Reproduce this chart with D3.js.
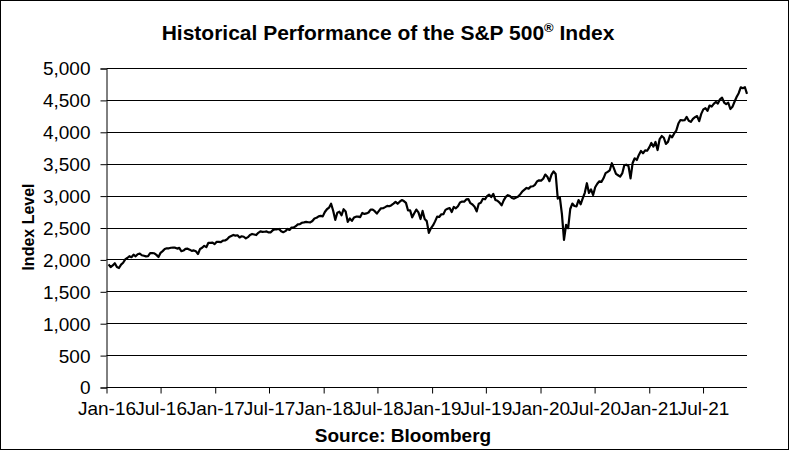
<!DOCTYPE html>
<html>
<head>
<meta charset="utf-8">
<script src="https://cdn.jsdelivr.net/npm/d3@7"></script>
<style>
    body { margin: 0; background: #fff; }
    text { font-family: "Liberation Sans", Arial, sans-serif; fill: #000; }
</style>
</head>
<body>
<svg id="chart" width="789" height="450"></svg>
<script>
// weekly closes of the S&P 500, first week ending 2016-01-08
var firstWeek = "2016-01-08";

var closes2016 = [1922, 1880, 1906, 1940, 1880, 1865, 1918, 1948, 2000, 2022, 2050, 2035, 2073,
    2048, 2081, 2092, 2065, 2057, 2047, 2052, 2099, 2099, 2096, 2071, 2037, 2103, 2130, 2162,
    2175, 2174, 2183, 2184, 2184, 2169, 2180, 2128, 2139, 2165, 2168, 2153, 2133, 2141, 2126,
    2085, 2164, 2182, 2213, 2192, 2260, 2258, 2264, 2239];
var closes2017 = [2277, 2275, 2271, 2295, 2297, 2316, 2351, 2367, 2383, 2372, 2378, 2344, 2363,
    2355, 2329, 2349, 2384, 2399, 2391, 2382, 2416, 2439, 2432, 2433, 2438, 2423, 2425, 2459,
    2473, 2472, 2477, 2441, 2426, 2443, 2477, 2461, 2500, 2502, 2519, 2549, 2553, 2575, 2581,
    2588, 2582, 2579, 2602, 2642, 2652, 2675, 2683, 2674];
var closes2018 = [2743, 2786, 2810, 2873, 2762, 2620, 2732, 2747, 2691, 2786, 2752, 2588, 2641,
    2604, 2656, 2670, 2670, 2663, 2728, 2713, 2721, 2735, 2779, 2780, 2755, 2718, 2760, 2801,
    2802, 2819, 2840, 2833, 2850, 2875, 2902, 2872, 2905, 2930, 2914, 2886, 2767, 2768, 2659,
    2723, 2781, 2736, 2633, 2760, 2633, 2600, 2417, 2486];
var closes2019 = [2532, 2596, 2671, 2665, 2707, 2708, 2776, 2793, 2804, 2743, 2822, 2800, 2834,
    2893, 2907, 2905, 2940, 2946, 2881, 2860, 2826, 2752, 2873, 2887, 2950, 2942, 2990, 3014,
    2977, 3026, 2932, 2919, 2889, 2847, 2926, 2979, 3007, 2992, 2962, 2952, 2970, 2986, 3023,
    3067, 3093, 3120, 3110, 3141, 3146, 3169, 3221, 3240];
var closes2020 = [3235, 3265, 3330, 3295, 3226, 3328, 3380, 3338, 2954, 2972, 2711, 2305, 2541,
    2489, 2790, 2875, 2837, 2831, 2930, 2864, 2955, 3044, 3194, 3041, 3098, 3009, 3130, 3185,
    3225, 3216, 3271, 3351, 3373, 3397, 3508, 3427, 3341, 3319, 3298, 3348, 3477, 3484, 3465,
    3270, 3510, 3585, 3558, 3638, 3699, 3663, 3709, 3703, 3756];
var closes2021 = [3825, 3768, 3841, 3714, 3887, 3934, 3907, 3811, 3842, 3943, 3913, 3975, 4020,
    4129, 4185, 4180, 4181, 4233, 4174, 4156, 4204, 4230, 4247, 4166, 4281, 4352, 4370, 4327,
    4412, 4395, 4437, 4468, 4442, 4509, 4535, 4459, 4433, 4455, 4357, 4391, 4471, 4545, 4605,
    4698, 4683, 4698, 4595];

var xTickLabels = ["Jan-16", "Jul-16", "Jan-17", "Jul-17", "Jan-18", "Jul-18", "Jan-19",
    "Jul-19", "Jan-20", "Jul-20", "Jan-21", "Jul-21"];
var yTicks = [0, 500, 1000, 1500, 2000, 2500, 3000, 3500, 4000, 4500, 5000];

var closes = [].concat(closes2016, closes2017, closes2018, closes2019, closes2020, closes2021);
var start = d3.timeParse("%Y-%m-%d")(firstWeek);
var data = closes.map(function (v, i) {
    return {date: d3.timeDay.offset(start, 7 * i), value: v};
});
var parseTick = d3.timeParse("%b-%y");
var tickDates = xTickLabels.map(function (s) { return parseTick(s); });

var svg = d3.select("#chart");
var plotLeft = 106.5, plotRight = 747, plotTop = 68, plotBottom = 387;

var x = d3.scaleTime()
        .domain([new Date(2016, 0, 1), data[data.length - 1].date])
        .range([plotLeft, plotRight]);
var y = d3.scaleLinear()
        .domain([0, 5000])
        .range([plotBottom, plotTop]);

// outer frame
svg.append("rect")
        .attr("x", 0.5).attr("y", 0.5)
        .attr("width", 788).attr("height", 449)
        .attr("fill", "none").attr("stroke", "#000").attr("stroke-width", 1);

// grid lines
svg.append("g").selectAll("line")
        .data(yTicks.slice(1))
        .enter().append("line")
        .attr("x1", plotLeft).attr("x2", plotRight)
        .attr("y1", function (d) { return Math.round(y(d)) + 0.5; })
        .attr("y2", function (d) { return Math.round(y(d)) + 0.5; })
        .attr("stroke", "#000").attr("stroke-width", 1);

var yAxis = svg.append("g")
        .attr("transform", "translate(" + plotLeft + ",0.5)")
        .call(d3.axisLeft(y).tickValues(yTicks).tickSize(6).tickPadding(10)
            .tickFormat(d3.format(",")));
var xAxis = svg.append("g")
        .attr("transform", "translate(0," + (plotBottom + 0.5) + ")")
        .call(d3.axisBottom(x).tickValues(tickDates).tickSize(6).tickPadding(8)
            .tickFormat(function (d, i) { return xTickLabels[i]; }));

[yAxis, xAxis].forEach(function (g) {
    g.select(".domain").attr("stroke", "#000");
    g.selectAll(".tick line").attr("stroke", "#000");
    g.selectAll("text").attr("font-size", 19).attr("font-family", "Liberation Sans, Arial, sans-serif").attr("fill", "#000");
});
xAxis.select(".domain").attr("d", "M" + plotLeft + ",0H" + plotRight);
yAxis.selectAll("text").attr("dy", "0.34em");

svg.append("path")
        .datum(data)
        .attr("fill", "none")
        .attr("stroke", "#000")
        .attr("stroke-width", 2.2)
        .attr("stroke-linejoin", "round")
        .attr("d", d3.line()
            .x(function (d) { return x(d.date); })
            .y(function (d) { return y(d.value); }));

var title = svg.append("text")
        .attr("x", 388).attr("y", 40)
        .attr("text-anchor", "middle")
        .attr("font-size", 21).attr("font-weight", "bold");
title.append("tspan").text("Historical  Performance of the S&P 500");
title.append("tspan").attr("font-size", 13).attr("dy", -8).text("®");
title.append("tspan").attr("dy", 8).text(" Index");

svg.append("text")
        .attr("transform", "translate(34,227) rotate(-90)")
        .attr("text-anchor", "middle")
        .attr("font-size", 16).attr("font-weight", "bold")
        .text("Index Level");

svg.append("text")
        .attr("x", 403).attr("y", 442)
        .attr("text-anchor", "middle")
        .attr("font-size", 19).attr("font-weight", "bold")
        .text("Source: Bloomberg");
</script>
</body>
</html>
